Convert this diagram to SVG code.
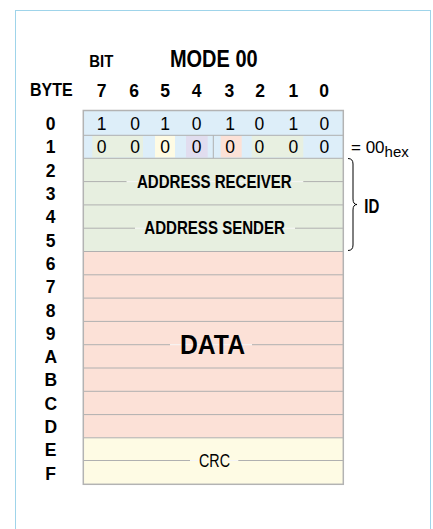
<svg xmlns="http://www.w3.org/2000/svg" width="433" height="529" viewBox="0 0 433 529">
<style>
.t{font-family:"Liberation Sans",Arial,sans-serif;fill:#000}
.b{font-weight:bold}
.c{text-anchor:middle}
.ln{stroke:#b0b0b0;stroke-width:1;fill:none}
.gap{stroke:#f6f6f6;stroke-width:1}
</style>
<rect x="15.5" y="10.5" width="415" height="540" fill="#fff" stroke="#9fd4ea" stroke-width="1"/>
<g id="headers">
<text class="t b c" x="213.8" y="67.3" font-size="24" textLength="87.7" lengthAdjust="spacingAndGlyphs">MODE 00</text>
<text class="t b c" x="101.3" y="67.3" font-size="17" textLength="24" lengthAdjust="spacingAndGlyphs">BIT</text>
<text class="t b c" x="51.3" y="95.7" font-size="18" textLength="42.7" lengthAdjust="spacingAndGlyphs">BYTE</text>
<g class="t b c" font-size="17.5">
<text x="101.7" y="96.7">7</text><text x="134" y="96.7">6</text><text x="165" y="96.7">5</text><text x="196.7" y="96.7">4</text><text x="229.3" y="96.7">3</text><text x="260" y="96.7">2</text><text x="293.3" y="96.7">1</text><text x="324" y="96.7">0</text>
</g>
</g>
<g id="byte-labels" class="t b c" font-size="17.5">
<text x="50.7" y="130">0</text>
<text x="50.7" y="153.3">1</text>
<text x="50.7" y="176.7">2</text>
<text x="50.7" y="200">3</text>
<text x="50.7" y="223.3">4</text>
<text x="50.7" y="246.6">5</text>
<text x="50.7" y="269.9">6</text>
<text x="50.7" y="293.2">7</text>
<text x="50.7" y="316.5">8</text>
<text x="50.7" y="339.8">9</text>
<text x="50.7" y="363.1">A</text>
<text x="50.7" y="386.4">B</text>
<text x="50.7" y="409.7">C</text>
<text x="50.7" y="433">D</text>
<text x="50.7" y="456.3">E</text>
<text x="50.7" y="479.6">F</text>
</g>
<g id="row-mode">
<rect x="83.3" y="110.5" width="260" height="47.8" fill="#ddeef9"/>
<rect x="92.3" y="135.7" width="50.7" height="21.8" fill="#e8f0e1"/>
<rect x="155" y="135.7" width="20" height="21.8" fill="#fefbe4"/>
<rect x="186" y="135.7" width="21.7" height="21.8" fill="#e1ddef"/>
<rect x="220.7" y="135.7" width="21" height="21.8" fill="#fce1d7"/>
<rect x="251.7" y="135.7" width="51.6" height="21.8" fill="#e8f0e1"/>
<line class="ln" x1="83.3" y1="135.3" x2="343.3" y2="135.3"/>
<line class="ln" x1="213.3" y1="135.3" x2="213.3" y2="158.3"/>
<g class="t c" font-size="17.5">
<text x="101.7" y="130">1</text><text x="135" y="130">0</text><text x="165" y="130">1</text><text x="196.7" y="130">0</text><text x="230" y="130">1</text><text x="259.3" y="130">0</text><text x="293.3" y="130">1</text><text x="324.3" y="130">0</text>
<text x="101.7" y="152.7">0</text><text x="135" y="152.7">0</text><text x="165" y="152.7">0</text><text x="196.7" y="152.7">0</text><text x="230" y="152.7">0</text><text x="259.3" y="152.7">0</text><text x="293.3" y="152.7">0</text><text x="324.3" y="152.7">0</text>
</g>
</g>
<g id="address">
<rect x="83.3" y="158.3" width="260" height="93.2" fill="#e7efe0"/>
<line class="ln" x1="83.3" y1="158.3" x2="343.3" y2="158.3"/>
<line class="ln" x1="83.3" y1="181.6" x2="126.7" y2="181.6"/>
<line class="gap" x1="126.7" y1="181.6" x2="303.3" y2="181.6"/>
<line class="ln" x1="303.3" y1="181.6" x2="343.3" y2="181.6"/>
<line class="ln" x1="83.3" y1="204.9" x2="343.3" y2="204.9"/>
<line class="ln" x1="83.3" y1="228.2" x2="135" y2="228.2"/>
<line class="gap" x1="135" y1="228.2" x2="295" y2="228.2"/>
<line class="ln" x1="295" y1="228.2" x2="343.3" y2="228.2"/>
<text class="t b c" x="214.3" y="188" font-size="17.5" textLength="154.7" lengthAdjust="spacingAndGlyphs">ADDRESS RECEIVER</text>
<text class="t b c" x="214.6" y="234.4" font-size="17.5" textLength="140.7" lengthAdjust="spacingAndGlyphs">ADDRESS SENDER</text>
</g>
<g id="data">
<rect x="83.3" y="251.5" width="260" height="186.3" fill="#fce1d7"/>
<g class="ln">
<line x1="83.3" y1="251.5" x2="343.3" y2="251.5"/>
<line x1="83.3" y1="274.8" x2="343.3" y2="274.8"/>
<line x1="83.3" y1="298.1" x2="343.3" y2="298.1"/>
<line x1="83.3" y1="321.4" x2="343.3" y2="321.4"/>
<line x1="83.3" y1="344.7" x2="170" y2="344.7"/>
<line x1="252" y1="344.7" x2="343.3" y2="344.7"/>
<line x1="83.3" y1="368" x2="343.3" y2="368"/>
<line x1="83.3" y1="391.3" x2="343.3" y2="391.3"/>
<line x1="83.3" y1="414.6" x2="343.3" y2="414.6"/>
</g>
<line class="gap" x1="170" y1="344.7" x2="252" y2="344.7"/>
<text class="t b c" x="212.5" y="354.3" font-size="27" textLength="65" lengthAdjust="spacingAndGlyphs">DATA</text>
</g>
<g id="crc">
<rect x="83.3" y="437.8" width="260" height="46.5" fill="#fefbe4"/>
<line class="ln" x1="83.3" y1="437.8" x2="343.3" y2="437.8"/>
<line class="ln" x1="83.3" y1="460.5" x2="190" y2="460.5"/>
<line class="gap" x1="190" y1="460.5" x2="238.3" y2="460.5"/>
<line class="ln" x1="238.3" y1="460.5" x2="343.3" y2="460.5"/>
<text class="t c" x="214.5" y="466.7" font-size="17.5" textLength="31" lengthAdjust="spacingAndGlyphs">CRC</text>
</g>
<rect x="83.3" y="110.5" width="260" height="373.8" fill="none" stroke="#b3b3b3" stroke-width="1.5"/>
<g id="connectors">
<path d="M348,158.5 Q353,158.5 353,164 L353,199 Q353,204.5 357,204.5 Q353,204.5 353,210 L353,245 Q353,250.5 348,250.5" fill="none" stroke="#000" stroke-width="1"/>
</g>
<g id="annotations">
<text class="t" x="351" y="152.5" font-size="17">= 00<tspan font-size="15" dy="4">hex</tspan></text>
<text class="t b" x="364.3" y="212.7" font-size="19.5" textLength="15" lengthAdjust="spacingAndGlyphs">ID</text>
</g>
</svg>
